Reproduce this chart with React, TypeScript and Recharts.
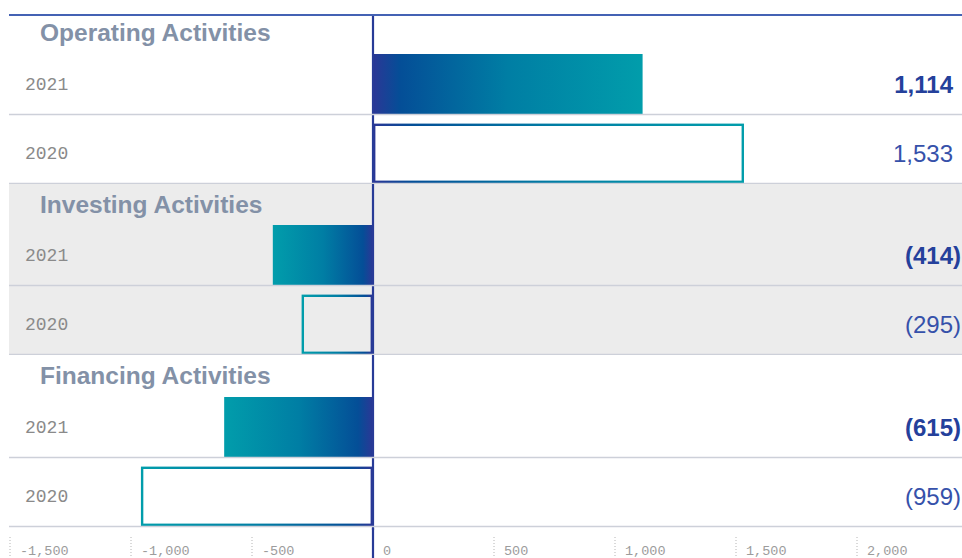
import React from "react";
import { BarChart, Bar, XAxis, YAxis, ReferenceLine, LabelList } from "recharts";

// values in millions
const years = ["2021", "2020"];
const groupTitles = ["Operating Activities", "Investing Activities", "Financing Activities"];
const operatingValues = [1114, 1533];
const investingValues = [-414, -295];
const financingValues = [-615, -959];
const axisTicks = [-1500, -1000, -500, 0, 500, 1000, 1500, 2000];
const xDomain = [-1500, 2500];

const BLUE = "#283b97";
const TEAL = "#019dab";
const CHART_W = 970;
const AXIS_H = 30;
const BAND = 69;
const YEAR_X = 17;
const VALUE_X = 945;
const MONO = "'Liberation Mono', 'DejaVu Sans Mono', monospace";
const SANS = "'Liberation Sans', Arial, sans-serif";

// per-group layout (height of the block, space above the first bar row, title offset)
const groupLayout = [
  { height: 169, pad: 34, titleTop: 6, shaded: false },
  { height: 171, pad: 36, titleTop: 9, shaded: true },
  { height: 172, pad: 37, titleTop: 9, shaded: false },
];

const groupValues = [operatingValues, investingValues, financingValues];

const fmt = (v: number) => Math.abs(v).toLocaleString("en-US");

function GradientDefs({ id }: { id: string }) {
  const stops = (
    <>
      <stop offset="0%" stopColor="#2b3796" />
      <stop offset="10%" stopColor="#044e97" />
      <stop offset="50%" stopColor="#007ea4" />
      <stop offset="100%" stopColor={TEAL} />
    </>
  );
  return (
    <defs>
      <linearGradient id={`${id}-pos`} x1="0" y1="0" x2="1" y2="0">
        {stops}
      </linearGradient>
      <linearGradient id={`${id}-neg`} x1="1" y1="0" x2="0" y2="0">
        {stops}
      </linearGradient>
    </defs>
  );
}

function makeBarShape(id: string) {
  return (props: any) => {
    const { x, y, width, height, payload } = props;
    const left = Math.min(x, x + width);
    const w = Math.abs(width);
    const grad = `url(#${id}-${payload.value < 0 ? "neg" : "pos"})`;
    if (payload.current) {
      return <rect x={left} y={y} width={w} height={height} fill={grad} />;
    }
    return (
      <rect
        x={left + 1.2}
        y={y + 1.8}
        width={Math.max(w - 2.4, 0)}
        height={height - 3}
        fill="none"
        stroke={grad}
        strokeWidth={2.4}
      />
    );
  };
}

const YearTick = (props: any) => {
  const { y, payload } = props;
  return (
    <g>
      <text x={YEAR_X} y={y} dy="0.36em" fontFamily={MONO} fontSize={18} fill="#8a8a8a">
        {payload.value}
      </text>
      <line x1={1} x2={CHART_W} y1={y + 31} y2={y + 31} stroke="#cdd0d9" strokeWidth={1.5} />
    </g>
  );
};

const renderValue = (props: any) => {
  const { y, height, value, index } = props;
  const cy = y + height / 2;
  const current = index === 0;
  const style = {
    fontFamily: SANS,
    fontSize: 24,
    fontWeight: current ? 700 : 400,
    fill: current ? "#24409b" : "#3651aa",
  };
  return (
    <g>
      <text x={VALUE_X} y={cy} dy="0.36em" textAnchor="end" {...style}>
        {value < 0 ? "(" + fmt(value) : fmt(value)}
      </text>
      {value < 0 && (
        <text x={VALUE_X} y={cy} dy="0.36em" textAnchor="start" {...style}>
          )
        </text>
      )}
    </g>
  );
};

function makeAxisTick(plotH: number) {
  return (props: any) => {
    const { x, payload } = props;
    const zero = payload.value === 0;
    return (
      <g>
        <line
          x1={x}
          x2={x}
          y1={zero ? plotH - 2 : plotH + 7}
          y2={plotH + AXIS_H}
          stroke={zero ? BLUE : "#b4b4b4"}
          strokeWidth={zero ? 2.2 : 1}
          strokeDasharray={zero ? undefined : "1 2"}
        />
        <text x={x + 10} y={plotH + 25} fontFamily={MONO} fontSize={13.5} fill="#9c9c9c">
          {payload.value < 0 ? "-" + fmt(payload.value) : fmt(payload.value)}
        </text>
      </g>
    );
  };
}

function CashGroup({ index }: { index: number }) {
  const layout = groupLayout[index];
  const last = index === groupLayout.length - 1;
  const plotH = layout.pad + BAND * years.length;
  const id = `cf${index}`;
  const data = years.map((year, i) => ({
    year,
    value: groupValues[index][i],
    current: i === 0,
  }));

  return (
    <div
      style={{
        position: "relative",
        height: layout.height,
        overflow: last ? "visible" : "hidden",
      }}
    >
      {layout.shaded && (
        <div style={{ position: "absolute", left: 1, right: 0, top: 0, bottom: 0, background: "#ececec" }} />
      )}
      <div
        style={{
          position: "absolute",
          left: 32,
          top: layout.titleTop,
          fontFamily: SANS,
          fontWeight: 700,
          fontSize: 24.5,
          lineHeight: "24px",
          color: "#8391a7",
          whiteSpace: "nowrap",
        }}
      >
        {groupTitles[index]}
      </div>
      <div style={{ position: "absolute", left: 0, top: 0 }}>
        <BarChart
          width={CHART_W}
          height={plotH + (last ? AXIS_H : 0)}
          layout="vertical"
          data={data}
          margin={{ top: 0, right: 0, bottom: 0, left: 2 }}
          barCategoryGap={0}
        >
          <GradientDefs id={id} />
          <XAxis
            type="number"
            domain={xDomain}
            allowDataOverflow
            ticks={axisTicks}
            interval={0}
            hide={!last}
            height={AXIS_H}
            axisLine={false}
            tickLine={false}
            tick={makeAxisTick(plotH)}
          />
          <YAxis
            type="category"
            dataKey="year"
            mirror
            axisLine={false}
            tickLine={false}
            interval={0}
            padding={{ top: layout.pad, bottom: 0 }}
            tick={YearTick}
          />
          <Bar dataKey="value" barSize={60} isAnimationActive={false} shape={makeBarShape(id)}>
            <LabelList dataKey="value" content={renderValue} />
          </Bar>
          <ReferenceLine x={0} stroke={BLUE} strokeWidth={2.2} />
        </BarChart>
      </div>
    </div>
  );
}

export default function App() {
  // fixed to the window so the wide chart never adds scrollbars
  return (
    <div
      style={{
        position: "fixed",
        left: 0,
        top: 0,
        width: 962,
        height: 558,
        overflow: "hidden",
        background: "#fff",
      }}
    >
      <div style={{ position: "absolute", left: 8, top: 15, width: 980 }}>
        {groupTitles.map((_, i) => (
          <CashGroup key={i} index={i} />
        ))}
      </div>
      <div style={{ position: "absolute", left: 9, right: 0, top: 14, height: 1.6, background: "#4462b4" }} />
    </div>
  );
}
